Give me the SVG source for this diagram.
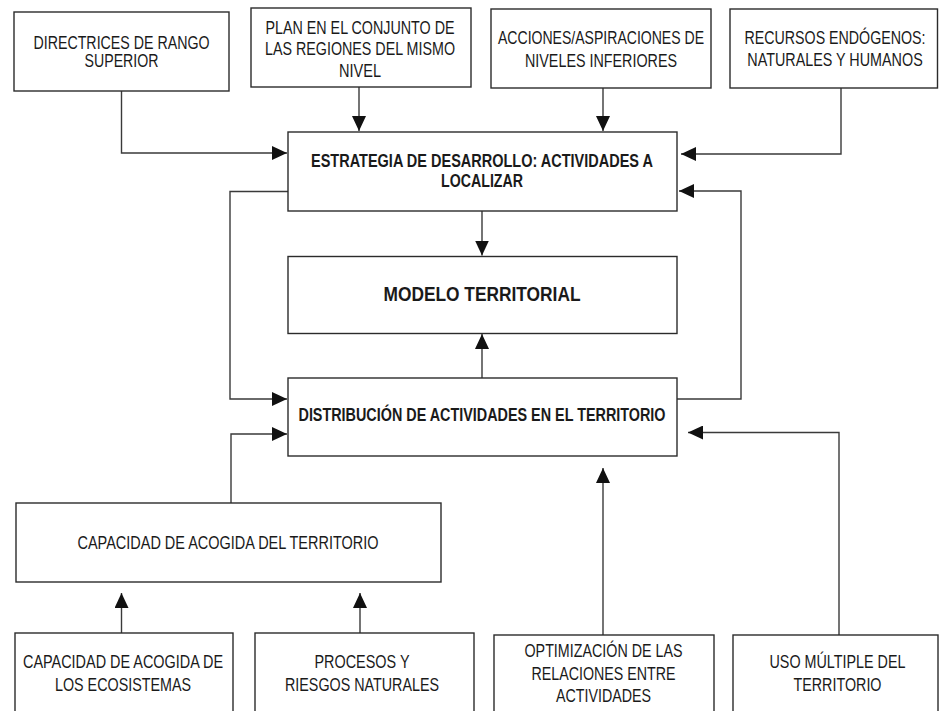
<svg xmlns="http://www.w3.org/2000/svg" width="939" height="711" viewBox="0 0 939 711">
<style>
.box{fill:#fff;stroke:#2b2b2b;stroke-width:1.4}
.t{font-family:"Liberation Sans",Arial,sans-serif;font-size:17.5px;fill:#1a1a1a;text-anchor:middle}
.b{font-weight:bold}
.big{font-size:21px}
.c{fill:none;stroke:#3a3a3a;stroke-width:1.4}
</style>
<defs>
<marker id="ah" markerUnits="userSpaceOnUse" markerWidth="15" markerHeight="14" refX="15" refY="7" orient="auto">
<path d="M0,0 L15,7 L0,14 Z" fill="#111"/>
</marker>
</defs>
<rect width="939" height="711" fill="#fff"/>
<g id="connectors">
<path class="c" d="M121.5,91 V153 H287" marker-end="url(#ah)"/>
<path class="c" d="M359,87 V131" marker-end="url(#ah)"/>
<path class="c" d="M603,88 V131" marker-end="url(#ah)"/>
<path class="c" d="M841,88 V154 H681" marker-end="url(#ah)"/>
<path class="c" d="M288,191.5 H230 V399 H287" marker-end="url(#ah)"/>
<path class="c" d="M677,399 H741 V191 H679" marker-end="url(#ah)"/>
<path class="c" d="M482,211 V255.5" marker-end="url(#ah)"/>
<path class="c" d="M482,378 V334" marker-end="url(#ah)"/>
<path class="c" d="M231,503 V434 H287" marker-end="url(#ah)"/>
<path class="c" d="M839,635 V432.5 H688" marker-end="url(#ah)"/>
<path class="c" d="M603,635 V468" marker-end="url(#ah)"/>
<path class="c" d="M121.5,633 V593" marker-end="url(#ah)"/>
<path class="c" d="M360,633 V593" marker-end="url(#ah)"/>
</g>
<g id="directrices">
<rect class="box" x="14" y="12" width="215" height="79"/>
<text class="t" x="121.5" y="48.5" textLength="176" lengthAdjust="spacingAndGlyphs">DIRECTRICES DE RANGO</text>
<text class="t" x="121.5" y="67" textLength="74" lengthAdjust="spacingAndGlyphs">SUPERIOR</text>
</g>
<g id="plan">
<rect class="box" x="251" y="8" width="220" height="79"/>
<text class="t" x="360" y="33.5" textLength="189" lengthAdjust="spacingAndGlyphs">PLAN EN EL CONJUNTO DE</text>
<text class="t" x="360" y="55" textLength="190" lengthAdjust="spacingAndGlyphs">LAS REGIONES DEL MISMO</text>
<text class="t" x="360" y="76.5" textLength="42" lengthAdjust="spacingAndGlyphs">NIVEL</text>
</g>
<g id="acciones">
<rect class="box" x="491" y="9" width="220" height="79"/>
<text class="t" x="601" y="44" textLength="206" lengthAdjust="spacingAndGlyphs">ACCIONES/ASPIRACIONES DE</text>
<text class="t" x="601" y="66.5" textLength="152" lengthAdjust="spacingAndGlyphs">NIVELES INFERIORES</text>
</g>
<g id="recursos">
<rect class="box" x="730" y="9" width="207.5" height="79"/>
<text class="t" transform="translate(835 43.5) scale(0.813 1)" x="0" y="0">RECURSOS ENDÓGENOS:</text>
<text class="t" transform="translate(835 66) scale(0.82 1)" x="0" y="0">NATURALES Y HUMANOS</text>
</g>
<g id="estrategia">
<rect class="box" x="288" y="132" width="389" height="79"/>
<text class="t b" x="482" y="166.5" textLength="342" lengthAdjust="spacingAndGlyphs">ESTRATEGIA DE DESARROLLO: ACTIVIDADES A</text>
<text class="t b" x="482" y="187" textLength="82" lengthAdjust="spacingAndGlyphs">LOCALIZAR</text>
</g>
<g id="modelo">
<rect class="box" x="288" y="256.5" width="389" height="77"/>
<text class="t b big" x="482" y="300.5" textLength="197" lengthAdjust="spacingAndGlyphs">MODELO TERRITORIAL</text>
</g>
<g id="distribucion">
<rect class="box" x="288" y="378" width="389" height="78"/>
<text class="t b" x="482" y="421" textLength="367" lengthAdjust="spacingAndGlyphs">DISTRIBUCIÓN DE ACTIVIDADES EN EL TERRITORIO</text>
</g>
<g id="capacidad">
<rect class="box" x="16" y="503" width="425" height="79"/>
<text class="t" x="228" y="548.5" textLength="301" lengthAdjust="spacingAndGlyphs">CAPACIDAD DE ACOGIDA DEL TERRITORIO</text>
</g>
<g id="ecosistemas">
<rect class="box" x="15" y="633" width="218" height="90"/>
<text class="t" x="123" y="668" textLength="200" lengthAdjust="spacingAndGlyphs">CAPACIDAD DE ACOGIDA DE</text>
<text class="t" x="123" y="690.5" textLength="136" lengthAdjust="spacingAndGlyphs">LOS ECOSISTEMAS</text>
</g>
<g id="procesos">
<rect class="box" x="255" y="633" width="219" height="90"/>
<text class="t" x="362" y="668" textLength="95" lengthAdjust="spacingAndGlyphs">PROCESOS Y</text>
<text class="t" x="362" y="690.5" textLength="154" lengthAdjust="spacingAndGlyphs">RIESGOS NATURALES</text>
</g>
<g id="optimizacion">
<rect class="box" x="494" y="635" width="220" height="90"/>
<text class="t" x="603.5" y="657" textLength="158" lengthAdjust="spacingAndGlyphs">OPTIMIZACIÓN DE LAS</text>
<text class="t" x="603.5" y="679.5" textLength="144" lengthAdjust="spacingAndGlyphs">RELACIONES ENTRE</text>
<text class="t" x="603.5" y="701.5" textLength="95" lengthAdjust="spacingAndGlyphs">ACTIVIDADES</text>
</g>
<g id="uso">
<rect class="box" x="733" y="635" width="205" height="90"/>
<text class="t" x="837.5" y="668" textLength="136" lengthAdjust="spacingAndGlyphs">USO MÚLTIPLE DEL</text>
<text class="t" x="837.5" y="690.5" textLength="88" lengthAdjust="spacingAndGlyphs">TERRITORIO</text>
</g>
</svg>
